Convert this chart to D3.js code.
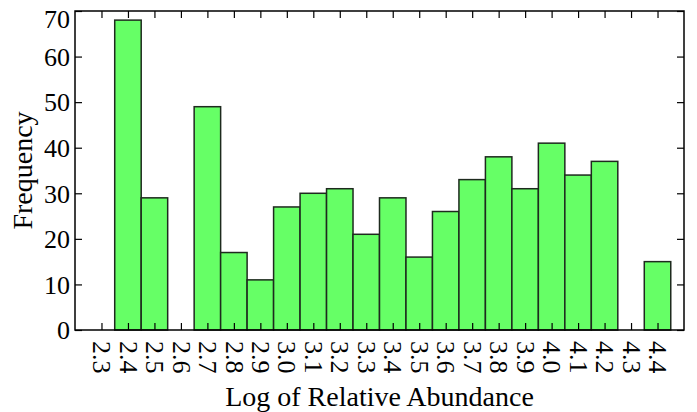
<!DOCTYPE html>
<html>
<head>
<meta charset="utf-8">
<script src="https://cdn.jsdelivr.net/npm/d3@7"></script>
<style>
  body { margin: 0; background: #fff; }
  svg text { font-family: "Liberation Serif", "Times New Roman", "DejaVu Serif", serif !important; }
</style>
</head>
<body>
<svg width="697" height="412"></svg>
<script>
// histogram bins (centre of each 0.1 wide bin) and counts
var binCenters = [2.4, 2.5, 2.6, 2.7, 2.8, 2.9, 3.0, 3.1, 3.2, 3.3, 3.4, 3.5, 3.6, 3.7, 3.8, 3.9, 4.0, 4.1, 4.2, 4.3, 4.4];
var frequencies = [68, 29, 0, 49, 17, 11, 27, 30, 31, 21, 29, 16, 26, 33, 38, 31, 41, 34, 37, 0, 15];
var xTickValues = [2.3, 2.4, 2.5, 2.6, 2.7, 2.8, 2.9, 3.0, 3.1, 3.2, 3.3, 3.4, 3.5, 3.6, 3.7, 3.8, 3.9, 4.0, 4.1, 4.2, 4.3, 4.4];
var yTickValues = [0, 10, 20, 30, 40, 50, 60, 70];
var binWidth = 0.1;

var svg = d3.select("svg"),
    margin = {top: 11, right: 13, bottom: 82, left: 75},
    width = +svg.attr("width") - margin.left - margin.right,
    height = +svg.attr("height") - margin.top - margin.bottom;

var x = d3.scaleLinear().domain([2.2, 4.5]).range([0, width]);
var y = d3.scaleLinear().domain([0, 70]).range([height, 0]);

var g = svg.append("g")
    .attr("transform", "translate(" + margin.left + "," + margin.top + ")");

// bars
g.append("g")
    .selectAll("rect")
    .data(binCenters.map(function (c, i) { return {c: c, v: frequencies[i]}; })
        .filter(function (d) { return d.v > 0; }))
    .enter().append("rect")
    .attr("x", function (d) { return x(d.c - binWidth / 2); })
    .attr("width", function (d) { return x(d.c + binWidth / 2) - x(d.c - binWidth / 2); })
    .attr("y", function (d) { return y(d.v); })
    .attr("height", function (d) { return y(0) - y(d.v); })
    .attr("fill", "#66ff66")
    .attr("stroke", "#1e2a1e")
    .attr("stroke-width", 1.5);

var tickLen = 7;
var fmt = d3.format(".1f");

function styleAxis(ax) {
    ax.select(".domain").remove();
    ax.selectAll(".tick line").attr("stroke", "#000").attr("stroke-width", 1.2);
    ax.selectAll(".tick text").attr("fill", "#000").attr("font-size", 26);
}

// bottom axis, ticks pointing inward
var xAxis = g.append("g")
    .attr("transform", "translate(0," + height + ")")
    .call(d3.axisBottom(x).tickValues(xTickValues).tickSize(-tickLen).tickFormat(fmt));
styleAxis(xAxis);
xAxis.selectAll(".tick text")
    .attr("transform", "rotate(90)")
    .attr("x", 11)
    .attr("y", 0)
    .attr("dy", "0.34em")
    .attr("text-anchor", "start");

// top ticks
var xTop = g.append("g")
    .call(d3.axisTop(x).tickValues(xTickValues).tickSize(-tickLen).tickFormat(""));
styleAxis(xTop);

// left axis
var yAxis = g.append("g")
    .call(d3.axisLeft(y).tickValues(yTickValues).tickSize(-tickLen).tickPadding(6));
styleAxis(yAxis);
yAxis.selectAll(".tick text")
    .attr("x", -5)
    .attr("dy", function (d) { return d === 70 ? "0.62em" : "0.34em"; });

// right ticks
var yRight = g.append("g")
    .attr("transform", "translate(" + width + ",0)")
    .call(d3.axisRight(y).tickValues(yTickValues).tickSize(-tickLen).tickFormat(""));
styleAxis(yRight);

// frame
g.append("rect")
    .attr("width", width)
    .attr("height", height)
    .attr("fill", "none")
    .attr("stroke", "#000")
    .attr("stroke-width", 1.5);

// axis labels
svg.append("text")
    .attr("x", margin.left + x(3.35))
    .attr("y", 406)
    .attr("text-anchor", "middle")
    .attr("font-size", 28)
    .text("Log of Relative Abundance");

svg.append("text")
    .attr("transform", "translate(32," + (margin.top + height / 2) + ") rotate(-90)")
    .attr("text-anchor", "middle")
    .attr("font-size", 28)
    .text("Frequency");
</script>
</body>
</html>
